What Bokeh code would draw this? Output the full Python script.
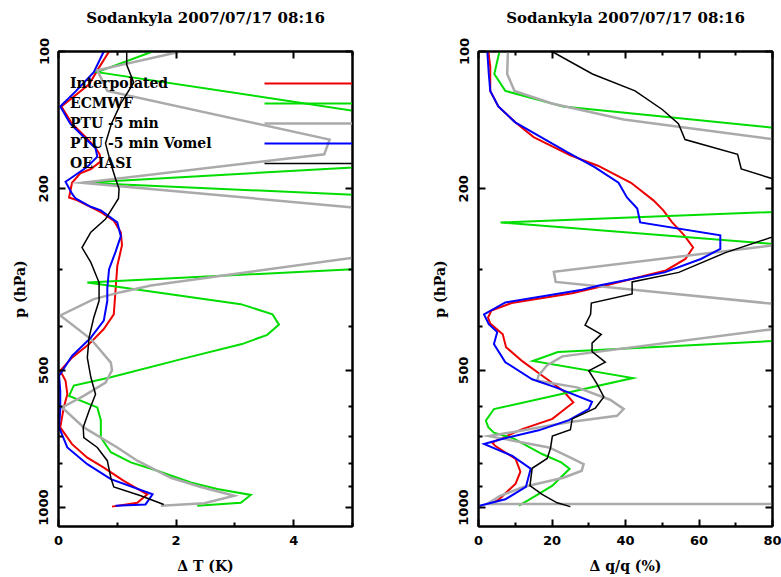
from bokeh.plotting import figure
from bokeh.models import (Range1d, FixedTicker, LinearAxis, LogAxis, Legend,
                          LegendItem, PrintfTickFormatter)
from bokeh.layouts import row
from bokeh.embed import file_html
from bokeh.resources import INLINE

TITLE = "Sodankyla 2007/07/17 08:16"
NAMES = ["Interpolated", "ECMWF", "PTU -5 min", "PTU -5 min Vomel", "OE IASI"]
COLORS = ["#ee0000", "#00dd00", "#aaaaaa", "#0000ff", "#000000"]
WIDTHS = [2, 2, 2.5, 2, 1.5]

P_MAJOR = [100, 200, 500, 1000]
P_MINOR = [300, 400, 600, 700, 800, 900]
DT_MAJOR = [0, 2, 4]
DT_MINOR = [1, 3, 5]
DQ_MAJOR = [0, 20, 40, 60, 80]
DQ_MINOR = [10, 30, 50, 70]

# ---------------- left panel: delta T (K) versus pressure (hPa) ----------------
red_dT = [0.86, 0.66, 0.52, 0.05, 0.23, 0.46, 0.62, 0.70, 0.72, 0.55, 0.37, 0.23,
          0.18, 0.32, 0.72, 0.94, 1.06, 1.08, 1.00, 0.97, 0.94, 0.77, 0.52, 0.23,
          0.03, 0.12, 0.15, 0.09, 0.03, 0.23, 0.49, 0.77, 1.11, 1.51, 1.34, 0.91]
red_dT_p = [100, 110, 118, 132, 144, 154, 162, 168, 174, 181, 185, 194,
            209, 212, 225, 235, 249, 266, 295, 334, 377, 406, 438, 469,
            501, 527, 564, 603, 667, 726, 777, 817, 874, 935, 976, 995]

green_dT = [1.60, 0.66, 9.67, 0.43, 18.35, 0.49, 3.10, 3.64, 3.75, 3.55, 3.12, 2.19,
            0.89, 0.26, 0.18, 0.66, 0.72, 0.72, 0.89, 1.23, 1.68, 2.25, 2.70, 3.27,
            3.10, 2.36]
green_dT_p = [100, 111, 166, 194, 246, 321, 358, 377, 397, 418, 438, 469,
              518, 540, 569, 603, 643, 702, 756, 796, 830, 881, 910, 938,
              976, 991]

gray_dT = [2.08, 0.66, 0.83, 4.61, 4.52, 0.40, 8.75, 1.57, 1.06, 0.60, 0.03, 0.55,
           0.89, 0.91, 0.80, 0.43, 0.06, 0.43, 1.00, 1.34, 1.91, 2.42, 2.99, 2.48,
           1.74]
gray_dT_p = [100, 110, 122, 156, 168, 194, 243, 326, 337, 349, 379, 427,
             481, 500, 532, 569, 603, 667, 738, 789, 860, 901, 942, 978,
             991]

blue_dT = [0.77, 0.60, 0.30, 0.03, 0.20, 0.43, 0.63, 0.66, 0.49, 0.25, 0.12, 0.23,
           0.29, 0.55, 0.72, 1.00, 1.06, 0.97, 0.86, 0.83, 0.83, 0.77, 0.55, 0.23,
           0.01, 0.03, 0.03, 0.01, 0.15, 0.49, 0.89, 1.60, 1.48, 0.97]
blue_dT_p = [100, 111, 122, 132, 144, 154, 163, 170, 179, 188, 193, 205,
             210, 219, 223, 237, 254, 275, 300, 330, 352, 389, 424, 465,
             514, 555, 610, 667, 738, 803, 866, 935, 984, 991]

black_dT = [1.16, 1.16, 1.28, 1.06, 0.90, 0.80, 0.89, 0.97, 1.03, 1.02, 0.80, 0.55,
            0.40, 0.55, 0.69, 0.69, 0.60, 0.52, 0.49, 0.55, 0.63, 0.52, 0.42, 0.43,
            0.66, 0.83, 0.89, 0.94, 1.40, 1.79]
black_dT_p = [100, 107, 117, 130, 144, 159, 176, 190, 200, 210, 233, 249,
              269, 290, 321, 352, 383, 424, 469, 518, 564, 613, 667, 702,
              738, 789, 860, 901, 942, 984]

# ---------------- right panel: delta q/q (%) versus pressure (hPa) ----------------
red_dq = [2.7, 3.2, 3.2, 5.4, 10.0, 15.0, 25.0, 32.5, 41.5, 47.6, 50.3, 52.7,
          56.0, 58.4, 56.3, 51.0, 34.5, 25.5, 9.0, 3.5, 2.6, 3.2, 6.6, 7.5,
          12.0, 16.8, 23.1, 25.8, 20.1, 11.9, 3.7, 4.6, 10.1, 11.4, 10.1, 5.6, 3.3]
red_dq_p = [100, 108, 122, 132, 143, 154, 169, 178, 194, 212, 223, 237,
            253, 269, 285, 302, 326, 339, 356, 370, 383, 395, 417, 445,
            478, 510, 555, 588, 639, 673, 720, 733, 782, 834, 886, 959, 984]

green_dq = [5.7, 4.3, 7.3, 23.0, 244.7, 6.0, 282.2, 21.6, 14.8, 42.0, 4.2, 2.0,
            2.7, 4.2, 9.5, 17.3, 22.5, 24.8, 20.1, 15.3, 11.0]
green_dq_p = [100, 112, 122, 132, 200, 237, 355, 456, 477, 520, 608, 645,
              667, 685, 705, 763, 796, 822, 895, 945, 990]

gray_dq = [8.0, 7.8, 9.8, 20.0, 39.5, 194.5, 20.5, 21.0, 110.2, 22.8, 18.6, 16.3,
           16.0, 26.8, 35.8, 39.5, 37.7, 24.9, 12.2, 2.8, 14.1, 19.2, 24.9, 28.6,
           28.1, 23.1, 12.2, 5.9, 2.3, 600.0]
gray_dq_p = [100, 112, 122, 130, 141, 206, 304, 320, 378, 466, 488, 514,
             527, 545, 580, 608, 629, 649, 677, 697, 725, 738, 776, 803,
             830, 860, 901, 942, 982, 985]

blue_dq = [2.4, 2.8, 3.2, 5.4, 10.0, 24.0, 31.5, 38.1, 40.4, 43.2, 44.0, 65.8,
           65.8, 60.5, 50.6, 32.8, 28.2, 7.3, 1.5, 2.8, 5.1, 4.2, 7.3, 14.6,
           21.0, 30.9, 30.0, 24.6, 16.4, 6.4, 1.5, 3.7, 9.2, 14.2, 12.9, 7.3, 0.3]
blue_dq_p = [100, 112, 122, 132, 143, 166, 179, 194, 209, 221, 237, 253,
             271, 285, 305, 326, 333, 355, 377, 396, 412, 438, 480, 523,
             545, 586, 608, 643, 677, 707, 725, 738, 770, 822, 901, 959, 991]

black_dq = [20.0, 31.0, 42.6, 50.0, 54.4, 56.2, 70.5, 71.5, 104.7, 67.2, 54.5, 41.8,
            41.8, 30.7, 30.5, 29.0, 33.4, 30.9, 30.9, 34.5, 30.0, 32.2, 34.1, 31.8,
            25.5, 25.0, 20.1, 19.6, 18.7, 14.6, 14.0, 17.3, 21.4, 25.0]
black_dq_p = [100, 112, 122, 134, 144, 156, 168, 181, 219, 276, 305, 320,
              340, 356, 377, 398, 417, 436, 455, 480, 501, 535, 572, 605,
              639, 675, 697, 740, 780, 820, 895, 935, 976, 995]

LEFT_SERIES = [(red_dT, red_dT_p), (green_dT, green_dT_p), (gray_dT, gray_dT_p),
               (blue_dT, blue_dT_p), (black_dT, black_dT_p)]
RIGHT_SERIES = [(red_dq, red_dq_p), (green_dq, green_dq_p), (gray_dq, gray_dq_p),
                (blue_dq, blue_dq_p), (black_dq, black_dq_p)]


def style_axis(ax, ticks, labels=True):
    ax.axis_line_width = 2
    ax.axis_line_color = "black"
    ax.major_tick_in = 7
    ax.major_tick_out = 0
    ax.minor_tick_in = 4
    ax.minor_tick_out = 0
    ax.major_tick_line_width = 2
    ax.minor_tick_line_width = 2
    ax.major_label_text_font = "DejaVu Sans"
    ax.major_label_text_font_style = "bold"
    ax.major_label_text_color = "black"
    ax.major_label_text_font_size = "13px"
    ax.axis_label_text_font = "DejaVu Serif"
    ax.axis_label_text_font_style = "bold"
    ax.axis_label_text_font_size = "14px"
    ax.axis_label_text_color = "black"
    if not labels:
        ax.major_label_overrides = {t: "" for t in ticks}
        ax.major_label_standoff = 0


def make_panel(x_end, x_major, x_minor, xlabel, series, border_left, border_right):
    p = figure(frame_width=294, frame_height=475,
               x_range=Range1d(0, x_end), y_range=Range1d(1100, 100),
               y_axis_type="log", output_backend="svg", toolbar_location=None,
               min_border_left=border_left, min_border_right=border_right,
               min_border_top=51, min_border_bottom=51)
    p.grid.visible = False
    p.outline_line_color = "black"
    p.outline_line_width = 2
    p.background_fill_color = "white"
    p.border_fill_color = "white"

    xa = p.xaxis[0]
    xa.ticker = FixedTicker(ticks=x_major, minor_ticks=x_minor)
    xa.axis_label = xlabel
    style_axis(xa, x_major)
    xa.major_label_standoff = 9
    xa.axis_label_standoff = 10

    ya = p.yaxis[0]
    ya.ticker = FixedTicker(ticks=P_MAJOR, minor_ticks=P_MINOR)
    ya.formatter = PrintfTickFormatter(format="%d")
    ya.axis_label = "p (hPa)"
    style_axis(ya, P_MAJOR)
    ya.major_label_orientation = "vertical"
    ya.major_label_standoff = 10
    ya.axis_label_standoff = 9

    # top axis: inward ticks, and the panel title as its label
    top = LinearAxis(ticker=FixedTicker(ticks=x_major, minor_ticks=x_minor))
    style_axis(top, x_major, labels=False)
    top.axis_label = TITLE
    top.axis_label_text_font_size = "15px"
    top.axis_label_standoff = 25
    p.add_layout(top, "above")
    right = LogAxis(ticker=FixedTicker(ticks=P_MAJOR, minor_ticks=P_MINOR))
    style_axis(right, P_MAJOR, labels=False)
    p.add_layout(right, "right")

    rends = []
    for (xs, ps), c, w in zip(series, COLORS, WIDTHS):
        r = p.line(xs, ps, line_color=c, line_width=w, line_join="miter")
        rends.append(r)
    return p, rends


p1, r1 = make_panel(5, DT_MAJOR, DT_MINOR, "\u0394 T (K)", LEFT_SERIES, 58, 38)
p2, r2 = make_panel(80, DQ_MAJOR, DQ_MINOR, "\u0394 q/q (%)", RIGHT_SERIES, 88, 9)

legend_common = dict(spacing=0, padding=0, margin=0, glyph_height=20, label_height=20,
                     border_line_alpha=0, background_fill_alpha=0,
                     label_text_font="DejaVu Serif", label_text_font_style="bold",
                     label_text_font_size="14px", label_text_color="black")
leg_text = Legend(items=[LegendItem(label=n, renderers=[r]) for n, r in zip(NAMES, r1)],
                  location=(12, 353), glyph_width=0, label_standoff=0, **legend_common)
leg_lines = Legend(items=[LegendItem(label=" ", renderers=[r]) for r in r1],
                   location=(206, 353), glyph_width=88, label_standoff=0, label_width=0,
                   **legend_common)
p1.add_layout(leg_text, "center")
p1.add_layout(leg_lines, "center")

layout = row(p1, p2)
open("out.html", "w").write(file_html(layout, INLINE))
